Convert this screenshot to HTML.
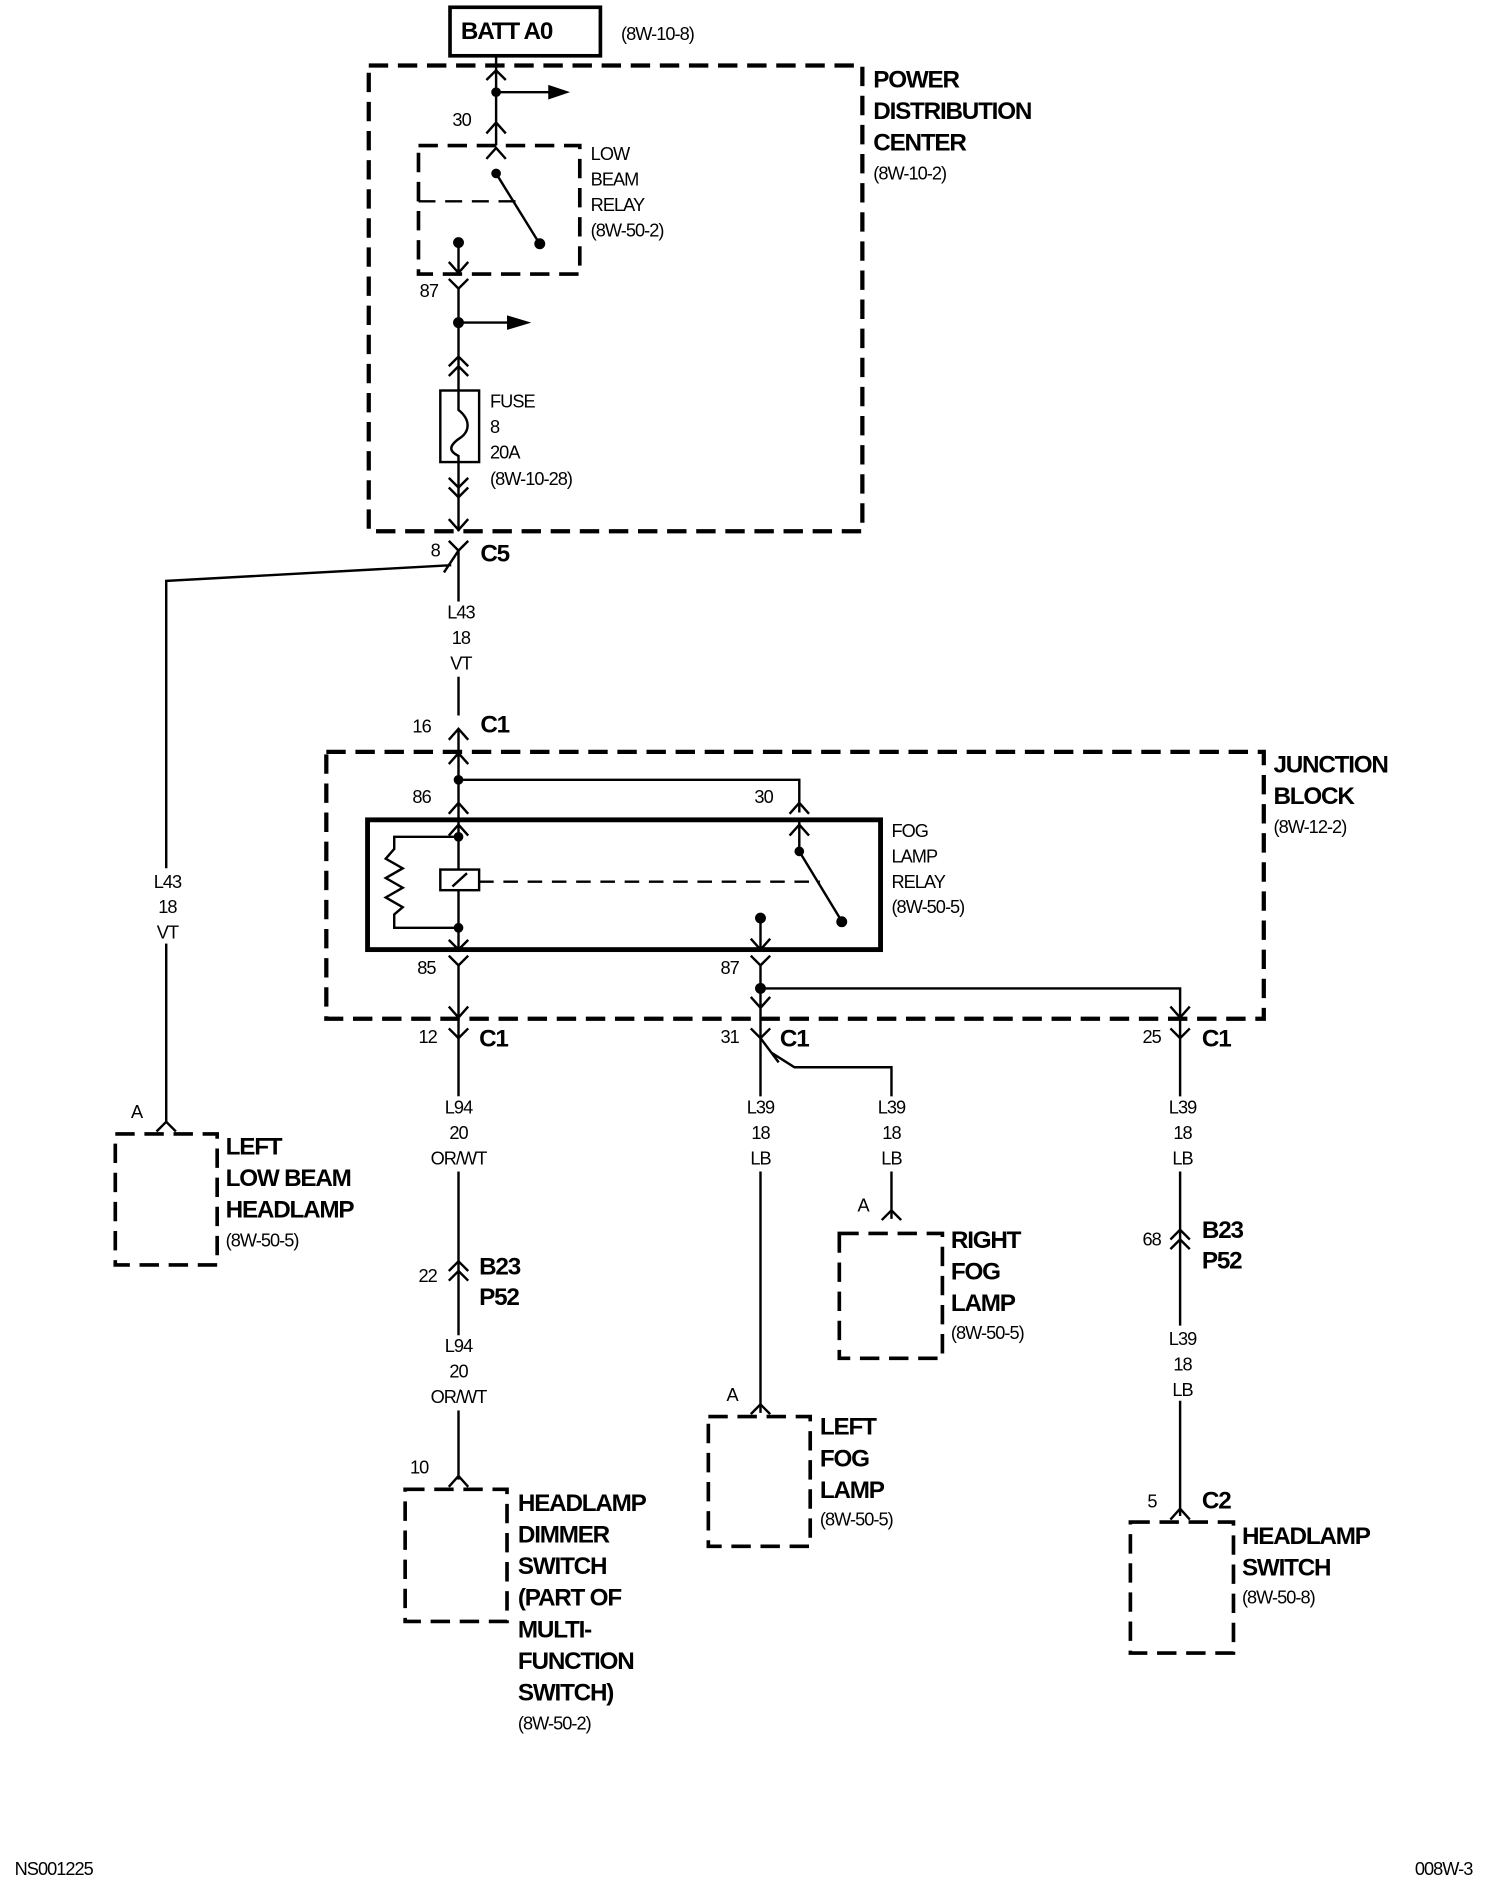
<!DOCTYPE html>
<html><head><meta charset="utf-8"><style>
html,body{margin:0;padding:0;background:#fff;}
svg{display:block;}
text{font-family:"Liberation Sans",sans-serif;fill:#000;}
.b{font-weight:bold;font-size:20px;letter-spacing:-1px;}
.s{font-size:15px;letter-spacing:-0.8px;}
.w{stroke:#000;stroke-width:2;fill:none;}
.d{stroke:#000;stroke-width:3.5;fill:none;stroke-dasharray:16 8;}
</style></head><body>
<svg width="1504" height="1898" viewBox="0 0 1240 1565" xmlns="http://www.w3.org/2000/svg">
<rect width="1240" height="1565" fill="#fff"/>
<!-- BATT -->
<rect x="371" y="6" width="124" height="40" fill="none" stroke="#000" stroke-width="3"/>
<text class="b" x="380" y="32">BATT A0</text>
<text class="s" x="512" y="33">(8W-10-8)</text>
<!-- PDC -->
<rect class="d" x="304" y="54" width="407" height="384"/>
<text class="b" x="720" y="72">POWER</text>
<text class="b" x="720" y="98">DISTRIBUTION</text>
<text class="b" x="720" y="124">CENTER</text>
<text class="s" x="720" y="148">(8W-10-2)</text>
<path class="w" d="M409 46V120 M401 66L409 58L417 66 M409 76H455 M401 110L409 101L417 110 M401 131L409 122L417 131"/>
<polygon points="452,70 470,76 452,82"/>
<circle cx="409" cy="76" r="4"/>
<text class="s" x="373" y="104">30</text>
<rect class="d" x="345" y="120" width="133" height="106" style="stroke-width:3"/>
<path d="M345 166H425" stroke="#000" stroke-width="2" stroke-dasharray="14 8"/>
<path class="w" d="M409 143L443 198"/>
<circle cx="409" cy="143" r="4"/><circle cx="445" cy="201" r="4.5"/>
<path class="w" d="M378 200V226 M370 216L378 225L386 216"/>
<circle cx="378" cy="200" r="4.5"/>
<text class="s" x="487" y="132">LOW</text>
<text class="s" x="487" y="153">BEAM</text>
<text class="s" x="487" y="174">RELAY</text>
<text class="s" x="487" y="195">(8W-50-2)</text>
<text class="s" x="346" y="245">87</text>
<path class="w" d="M370 230L378 238L386 230 M378 238V438 M378 266H420 M370 302L378 294L386 302 M370 310L378 302L386 310"/>
<polygon points="418,260 438,266 418,272"/>
<circle cx="378" cy="266" r="4.5"/>
<rect x="363" y="322" width="32" height="59" fill="#fff" stroke="#000" stroke-width="2"/>
<path class="w" d="M378 322V338C388 346 388 356 378 362C370 368 370 372 378 376V381"/>
<text class="s" x="404" y="336">FUSE</text>
<text class="s" x="404" y="357">8</text>
<text class="s" x="404" y="378">20A</text>
<text class="s" x="404" y="400">(8W-10-28)</text>
<path class="w" d="M370 394L378 402L386 394 M370 402L378 410L386 402 M370 428L378 437L386 428"/>
<!-- C5 -->
<path class="w" d="M370 446L378 454L386 446 M378 454V590 M378 454L366 472 M372 466L137 479V925"/>
<text class="s" x="355" y="459">8</text>
<text class="b" x="396" y="463">C5</text>
<!-- label gap masks -->
<g fill="#fff">
<rect x="360" y="496" width="40" height="62"/>
<rect x="118" y="716" width="40" height="62"/>
<rect x="350" y="904" width="56" height="62"/>
<rect x="350" y="1101" width="56" height="62"/>
<rect x="610" y="904" width="36" height="62"/>
<rect x="718" y="904" width="36" height="62"/>
<rect x="956" y="904" width="36" height="62"/>
<rect x="956" y="1093" width="36" height="62"/>
</g>
<text class="s" x="380" y="510" text-anchor="middle">L43</text>
<text class="s" x="380" y="531" text-anchor="middle">18</text>
<text class="s" x="380" y="552" text-anchor="middle">VT</text>
<path class="w" d="M370 610L378 601L386 610"/>
<text class="s" x="340" y="604">16</text>
<text class="b" x="396" y="604">C1</text>
<!-- Junction -->
<rect class="d" x="269" y="620" width="773" height="220"/>
<text class="b" x="1050" y="637">JUNCTION</text>
<text class="b" x="1050" y="663">BLOCK</text>
<text class="s" x="1050" y="687">(8W-12-2)</text>
<path class="w" d="M378 601V676 M370 630L378 621L386 630 M378 643H659V670 M370 671L378 662L386 671 M651 671L659 662L667 671"/>
<circle cx="378" cy="643" r="4"/>
<text class="s" x="340" y="662">86</text>
<text class="s" x="622" y="662">30</text>
<rect x="303" y="676" width="423" height="107" fill="none" stroke="#000" stroke-width="4"/>
<path class="w" d="M378 676V783 M370 689L378 680L386 689 M378 690H325V700L318 708L332 716L318 724L332 732L318 740L332 748L325 754V765H378 M370 775L378 783L386 775"/>
<circle cx="378" cy="690" r="4"/><circle cx="378" cy="765" r="4"/>
<rect x="363" y="717" width="32" height="17" fill="#fff" stroke="#000" stroke-width="2"/>
<path class="w" d="M373 731L385 720"/>
<path d="M395 727H676" stroke="#000" stroke-width="2" stroke-dasharray="12 8"/>
<path class="w" d="M659 676V702 M651 689L659 680L667 689 M659 702L693 758"/>
<circle cx="659" cy="702" r="4"/><circle cx="694" cy="760" r="4.5"/>
<path class="w" d="M627 757V783 M619 774L627 783L635 774"/>
<circle cx="627" cy="757" r="4.5"/>
<text class="s" x="735" y="690">FOG</text>
<text class="s" x="735" y="711">LAMP</text>
<text class="s" x="735" y="732">RELAY</text>
<text class="s" x="735" y="753">(8W-50-5)</text>
<text class="s" x="344" y="803">85</text>
<text class="s" x="594" y="803">87</text>
<path class="w" d="M370 788L378 796L386 788 M378 796V904 M378 966V1220 M370 830L378 839L386 830 M619 788L627 796L635 788 M627 796V904 M627 966V1165 M627 815H973V904 M973 966V1093 M973 1155V1250 M965 830L973 839L981 830"/>
<circle cx="627" cy="815" r="4.5"/>
<path class="w" d="M619 822L627 831L635 822"/>
<!-- bottom C1 -->
<path class="w" d="M370 848L378 856L386 848 M619 848L627 856L635 848 M627 856L642 876 M636 868L655 880H735V904 M735 966V1005 M965 848L973 856L981 848"/>
<text class="s" x="345" y="860">12</text><text class="b" x="395" y="863">C1</text>
<text class="s" x="594" y="860">31</text><text class="b" x="643" y="863">C1</text>
<text class="s" x="942" y="860">25</text><text class="b" x="991" y="863">C1</text>
<!-- L94 -->
<rect x="350" y="904" width="56" height="62" fill="#fff"/>
<rect x="350" y="1101" width="56" height="62" fill="#fff"/>
<text class="s" x="378" y="918" text-anchor="middle">L94</text>
<text class="s" x="378" y="939" text-anchor="middle">20</text>
<text class="s" x="378" y="960" text-anchor="middle">OR/WT</text>
<path class="w" d="M370 1048L378 1040L386 1048 M370 1056L378 1048L386 1056"/>
<text class="s" x="345" y="1057">22</text>
<text class="b" x="395" y="1051">B23</text><text class="b" x="395" y="1076">P52</text>
<text class="s" x="378" y="1115" text-anchor="middle">L94</text>
<text class="s" x="378" y="1136" text-anchor="middle">20</text>
<text class="s" x="378" y="1157" text-anchor="middle">OR/WT</text>
<path class="w" d="M370 1226L378 1217L386 1226"/>
<text class="s" x="338" y="1215">10</text>
<rect class="d" x="334" y="1228" width="84" height="109" style="stroke-width:3"/>
<text class="b" x="427" y="1246">HEADLAMP</text>
<text class="b" x="427" y="1272">DIMMER</text>
<text class="b" x="427" y="1298">SWITCH</text>
<text class="b" x="427" y="1324">(PART OF</text>
<text class="b" x="427" y="1350">MULTI-</text>
<text class="b" x="427" y="1376">FUNCTION</text>
<text class="b" x="427" y="1402">SWITCH)</text>
<text class="s" x="427" y="1426">(8W-50-2)</text>
<!-- L39 fog -->
<text class="s" x="627" y="918" text-anchor="middle">L39</text>
<text class="s" x="627" y="939" text-anchor="middle">18</text>
<text class="s" x="627" y="960" text-anchor="middle">LB</text>
<text class="s" x="735" y="918" text-anchor="middle">L39</text>
<text class="s" x="735" y="939" text-anchor="middle">18</text>
<text class="s" x="735" y="960" text-anchor="middle">LB</text>
<path class="w" d="M727 1006L735 998L743 1006"/>
<text class="s" x="707" y="999">A</text>
<rect class="d" x="692" y="1017" width="85" height="103" style="stroke-width:3"/>
<text class="b" x="784" y="1029">RIGHT</text>
<text class="b" x="784" y="1055">FOG</text>
<text class="b" x="784" y="1081">LAMP</text>
<text class="s" x="784" y="1104">(8W-50-5)</text>
<path class="w" d="M619 1166L627 1158L635 1166"/>
<text class="s" x="599" y="1155">A</text>
<rect class="d" x="584" y="1168" width="84" height="107" style="stroke-width:3"/>
<text class="b" x="676" y="1183">LEFT</text>
<text class="b" x="676" y="1209">FOG</text>
<text class="b" x="676" y="1235">LAMP</text>
<text class="s" x="676" y="1258">(8W-50-5)</text>
<!-- 25 -->
<text class="s" x="975" y="918" text-anchor="middle">L39</text>
<text class="s" x="975" y="939" text-anchor="middle">18</text>
<text class="s" x="975" y="960" text-anchor="middle">LB</text>
<path class="w" d="M965 1022L973 1014L981 1022 M965 1030L973 1022L981 1030"/>
<text class="s" x="942" y="1027">68</text>
<text class="b" x="991" y="1021">B23</text><text class="b" x="991" y="1046">P52</text>
<text class="s" x="975" y="1109" text-anchor="middle">L39</text>
<text class="s" x="975" y="1130" text-anchor="middle">18</text>
<text class="s" x="975" y="1151" text-anchor="middle">LB</text>
<path class="w" d="M965 1253L973 1244L981 1253"/>
<text class="s" x="946" y="1243">5</text>
<text class="b" x="991" y="1244">C2</text>
<rect class="d" x="932" y="1255" width="85" height="108" style="stroke-width:3"/>
<text class="b" x="1024" y="1273">HEADLAMP</text>
<text class="b" x="1024" y="1299">SWITCH</text>
<text class="s" x="1024" y="1322">(8W-50-8)</text>
<!-- left low beam -->
<rect x="118" y="716" width="40" height="62" fill="#fff"/>
<text class="s" x="138" y="732" text-anchor="middle">L43</text>
<text class="s" x="138" y="753" text-anchor="middle">18</text>
<text class="s" x="138" y="774" text-anchor="middle">VT</text>
<path class="w" d="M129 933L137 925L145 933"/>
<text class="s" x="108" y="922">A</text>
<rect class="d" x="95" y="935" width="84" height="108" style="stroke-width:3"/>
<text class="b" x="186" y="952">LEFT</text>
<text class="b" x="186" y="978">LOW BEAM</text>
<text class="b" x="186" y="1004">HEADLAMP</text>
<text class="s" x="186" y="1028">(8W-50-5)</text>
<text class="s" x="12" y="1546">NS001225</text>
<text class="s" x="1214" y="1546" text-anchor="end">008W-3</text>
</svg>
</body></html>
